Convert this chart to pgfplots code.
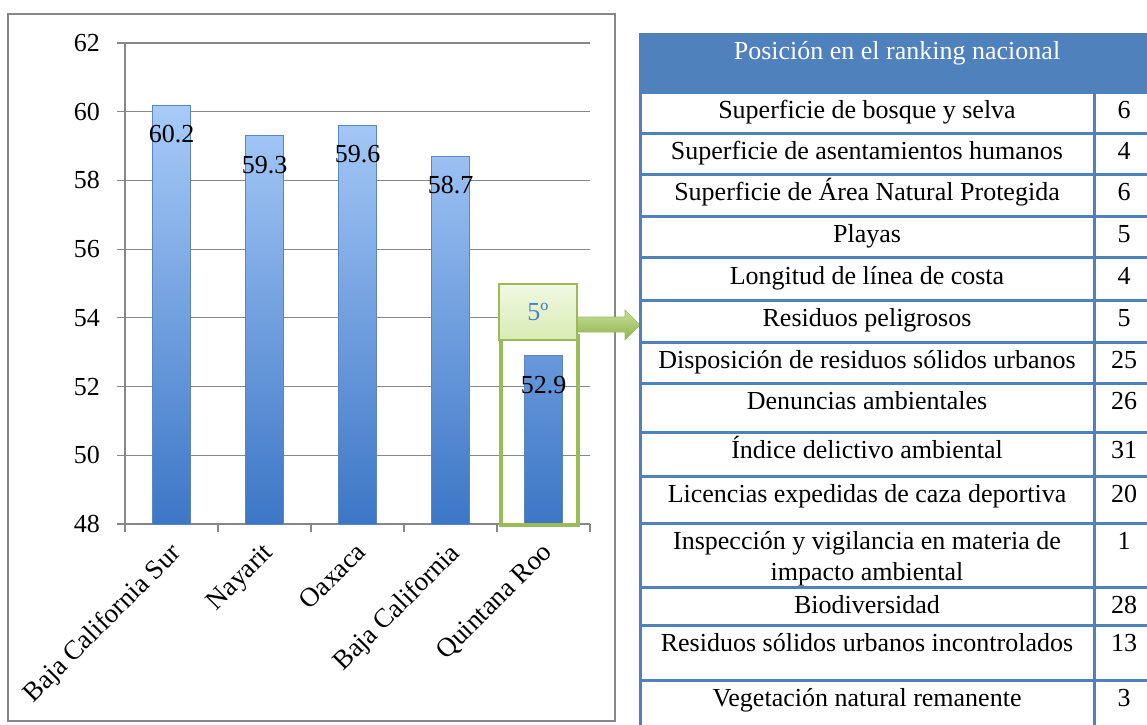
\documentclass[border=0pt]{standalone}
\usepackage{pgfplots}
\pgfplotsset{compat=1.18}
\usepackage{fontspec}
\setmainfont{Liberation Serif}

\definecolor{gridgray}{HTML}{878787}
\definecolor{tblue}{HTML}{4F81BD}
\definecolor{ogreen}{HTML}{9BBB59}
\definecolor{boxtop}{HTML}{F0F8E2}
\definecolor{boxbot}{HTML}{D8ECB4}
\definecolor{arrtop}{HTML}{C8E09A}
\definecolor{arrbot}{HTML}{8FB24C}
\definecolor{bartop}{HTML}{A8CBF8}
\definecolor{barbot}{HTML}{3C76C6}
\definecolor{barline}{HTML}{5C86BE}
\definecolor{numblue}{HTML}{4A80C8}

\begin{document}
\begin{tikzpicture}[x=1pt,y=1pt]
\useasboundingbox (0,0) rectangle (1147,724);
\clip (0,0) rectangle (1147,724);

% marco del grafico
\draw[gridgray, line width=1.5pt] (8,3) rectangle (615,710);

\begin{axis}[
    at={(125pt,200pt)}, anchor=south west,
    width=465pt, height=481pt, scale only axis,
    xmin=-0.5, xmax=4.5,
    ymin=48, ymax=62,
    ytick={48,50,...,62},
    xtick={-0.5,0.5,...,4.5},
    xticklabels={},
    extra x ticks={0,1,2,3,4},
    extra x tick labels={Baja California Sur, Nayarit, Oaxaca, Baja California, Quintana Roo},
    extra x tick style={major tick length=0pt},
    axis x line*=bottom, axis y line*=left,
    axis line style={gridgray, line width=1.2pt, -},
    ymajorgrids,
    grid style={gridgray, line width=1.2pt},
    tick align=outside,
    major tick length=8pt,
    every tick/.style={gridgray, line width=1.2pt},
    /pgf/number format/assume math mode=true,
    tick label style={font=\fontsize{26}{26}\selectfont, text=black},
    xticklabel style={yshift=-14pt, xshift=-3pt, rotate=45, anchor=north east, inner sep=2pt,
        font=\fontsize{27}{27}\selectfont},
    yticklabel style={anchor=east, inner sep=0pt, xshift=-17pt},
    clip=false,
]
\addplot[ybar, bar width=38pt, draw=barline, line width=0.6pt,
    top color=bartop, bottom color=barbot,
    nodes near coords={\pgfmathprintnumber[fixed,precision=1,fixed zerofill]{\pgfplotspointmeta}},
    nodes near coords align={below},
    every node near coord/.append style={font=\fontsize{26}{26}\selectfont,
        text=black, inner sep=0pt, yshift=-20pt}]
coordinates {(0,60.2) (1,59.3) (2,59.6) (3,58.7) (4,52.9)};
\end{axis}

\begin{scope}[shift={(0,724)}, yscale=-1]
% resaltado de Quintana Roo
\draw[ogreen, line width=4pt] (501,336) rectangle (578,525);
\shade[top color=arrtop, bottom color=arrbot, draw=ogreen, line width=0.6pt]
    (576,317) -- (625,317) -- (625,310) -- (640,325) -- (625,340) -- (625,332) -- (576,332) -- cycle;
\shade[top color=boxtop, bottom color=boxbot, draw=ogreen, line width=1.5pt]
    (499,284) rectangle (577,340);
\node[text=numblue, font=\fontsize{26}{26}\selectfont] at (538,312) {5º};

% tabla
\fill[tblue] (639,33) rectangle (1160,93);
\node[anchor=base, text=white, font=\fontsize{26}{26}\selectfont] at (897,60) {Posición en el ranking nacional};
\foreach \yy in {93,134,175,217,258,300,342,383,432,476,523,587,625,680}
    \draw[tblue, line width=3pt] (639,\yy) -- (1160,\yy);
\draw[tblue, line width=3pt] (640,92) -- (640,730);
\draw[tblue, line width=3pt] (1094,92) -- (1094,730);
\foreach \yy/\txt/\num in {
    93/Superficie de bosque y selva/6,
    134/Superficie de asentamientos humanos/4,
    175/Superficie de Área Natural Protegida/6,
    217/Playas/5,
    258/Longitud de línea de costa/4,
    300/Residuos peligrosos/5,
    342/Disposición de residuos sólidos urbanos/25,
    383/Denuncias ambientales/26,
    432/Índice delictivo ambiental/31,
    476/Licencias expedidas de caza deportiva/20,
    523/Inspección y vigilancia en materia de/1,
    587/Biodiversidad/28,
    625/Residuos sólidos urbanos incontrolados/13,
    680/Vegetación natural remanente/3}{
  \node[anchor=base, font=\fontsize{26}{26}\selectfont] at (867,\yy+26) {\txt};
  \node[anchor=base, font=\fontsize{26}{26}\selectfont] at (1124,\yy+26) {\num};
}
\node[anchor=base, font=\fontsize{26}{26}\selectfont] at (867,580) {impacto ambiental};
\end{scope}
\end{tikzpicture}
\end{document}
